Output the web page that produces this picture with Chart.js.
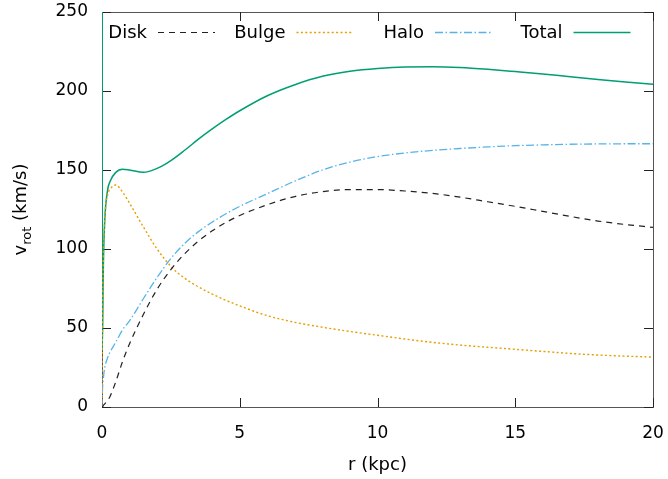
<!DOCTYPE html>
<html>
<head>
<meta charset="utf-8">
<script src="https://cdn.jsdelivr.net/npm/chart.js@4"></script>
<style>
    html, body { margin: 0; padding: 0; background: #fff; }
    canvas { display: block; }
</style>
</head>
<body>
<canvas id="rotChart" width="668" height="479"></canvas>
<script>
// --- DATA ---
const radius = [0, 0.01, 0.05, 0.1, 0.2, 0.3, 0.5, 0.75, 1, 1.5, 2, 2.5, 3, 3.5, 4, 4.5, 5, 6, 7, 8, 9, 10, 11, 12, 13, 14, 15, 16, 17, 18, 19, 20];
const disk  = [0, 0, 1, 2, 4, 7, 16, 29, 40, 58.5, 74.5, 87, 97, 105, 111.5, 116.8, 121.2, 128, 133.2, 136.3, 137.6, 137.6, 136.7, 135.2, 132.8, 129.9, 127, 123.8, 120.6, 117.7, 115.5, 113.7];
const bulge = [0, 40, 95, 120, 134, 138, 140.5, 136, 129, 114, 100, 89, 81.5, 76, 71.5, 67.5, 64, 57.8, 53.6, 50.5, 47.8, 45.4, 43, 40.9, 39.2, 37.8, 36.5, 35.2, 33.9, 32.9, 32.2, 31.6];
const halo  = [0, 8, 18, 25, 31, 35, 41, 49, 54.5, 68.5, 82, 94, 103.5, 111, 117, 122.3, 127, 135, 143, 150, 155, 158.5, 160.8, 162.4, 163.6, 164.6, 165.4, 165.9, 166.3, 166.5, 166.6, 166.6];
const total = [1000, 36, 90, 118, 137, 143, 148.5, 150.5, 150, 148.5, 151, 156, 162.5, 169.5, 176, 182, 187.5, 197, 204, 209.3, 212.5, 214.3, 215.2, 215.3, 214.8, 213.7, 212.3, 210.8, 209, 207.3, 205.7, 204.2];

const xTicks = [0, 5, 10, 15, 20];
const yTicks = [0, 50, 100, 150, 200, 250];

const FONT = 'DejaVu Sans, Verdana, sans-serif';

function toPoints(values) {
    return radius.map((r, i) => ({ x: r, y: values[i] }));
}

function series(label, values, color, dash, width) {
    return {
        label: label,
        data: toPoints(values),
        borderColor: color,
        borderWidth: width,
        borderDash: dash,
        pointRadius: 0,
        fill: false,
        cubicInterpolationMode: 'monotone'
    };
}

// --- PLUGINS: gnuplot-like frame, inward ticks, key and y label ---
const framePlugin = {
    id: 'frame',
    beforeDatasetsDraw(chart) {
        const { ctx, chartArea: a, scales } = chart;
        const len = 9;
        ctx.save();
        ctx.strokeStyle = '#555';
        ctx.lineWidth = 1;
        ctx.strokeRect(a.left + 0.5, a.top + 0.5, a.right - a.left, a.bottom - a.top);
        ctx.strokeStyle = '#222';
        ctx.beginPath();
        xTicks.forEach(v => {
            const px = Math.round(scales.x.getPixelForValue(v)) + 0.5;
            ctx.moveTo(px, a.bottom); ctx.lineTo(px, a.bottom - len);
            ctx.moveTo(px, a.top); ctx.lineTo(px, a.top + len);
        });
        yTicks.forEach(v => {
            const py = Math.round(scales.y.getPixelForValue(v)) + 0.5;
            ctx.moveTo(a.left, py); ctx.lineTo(a.left + len, py);
            ctx.moveTo(a.right, py); ctx.lineTo(a.right - len, py);
        });
        ctx.stroke();
        ctx.restore();
    }
};

const keyPlugin = {
    id: 'gnuKey',
    afterDraw(chart) {
        const { ctx, chartArea: a } = chart;
        const y = a.top + 20;
        ctx.save();
        ctx.font = '18px ' + FONT;
        ctx.textBaseline = 'middle';
        ctx.textAlign = 'right';
        chart.data.datasets.forEach((ds, i) => {
            const x0 = a.left + 56 + i * 138.5;
            ctx.fillStyle = '#000';
            ctx.fillText(ds.label, x0 - 11, y + 1);
            ctx.beginPath();
            ctx.strokeStyle = ds.borderColor;
            ctx.lineWidth = ds.borderWidth;
            ctx.setLineDash(ds.borderDash || []);
            ctx.moveTo(x0, y + 0.5);
            ctx.lineTo(x0 + 57, y + 0.5);
            ctx.stroke();
        });
        ctx.restore();

        // y axis title with subscript
        const cy = (a.top + a.bottom) / 2;
        ctx.save();
        ctx.translate(25.5, cy);
        ctx.rotate(-Math.PI / 2);
        ctx.fillStyle = '#000';
        ctx.textBaseline = 'alphabetic';
        ctx.textAlign = 'left';
        ctx.font = '18px ' + FONT;
        const wV = ctx.measureText('v').width;
        const wRest = ctx.measureText(' (km/s)').width;
        ctx.font = '13px ' + FONT;
        const wSub = ctx.measureText('rot').width;
        let x = -(wV + wSub + wRest) / 2;
        ctx.font = '18px ' + FONT;
        ctx.fillText('v', x, 0);
        x += wV;
        ctx.font = '13px ' + FONT;
        ctx.fillText('rot', x, 5);
        x += wSub;
        ctx.font = '18px ' + FONT;
        ctx.fillText(' (km/s)', x, 0);
        ctx.restore();
    }
};

new Chart(document.getElementById('rotChart'), {
    type: 'line',
    data: {
        datasets: [
            series('Disk', disk, '#222', [6, 5], 1.2),
            series('Bulge', bulge, '#e69f00', [2, 2.4], 1.4),
            series('Halo', halo, '#56b4e9', [8, 2.5, 1.5, 2.5], 1.3),
            series('Total', total, '#009e73', [], 1.5)
        ]
    },
    options: {
        responsive: false,
        animation: false,
        devicePixelRatio: 1,
        layout: { padding: { top: 12, right: 15, left: 0, bottom: 0 } },
        plugins: {
            legend: { display: false },
            tooltip: { enabled: false }
        },
        scales: {
            x: {
                type: 'linear',
                min: 0,
                max: 20,
                grid: { display: false, drawTicks: false },
                border: { display: false },
                ticks: {
                    stepSize: 5,
                    padding: 16,
                    color: '#000',
                    font: { family: FONT, size: 17 }
                },
                title: {
                    display: true,
                    text: 'r (kpc)',
                    color: '#000',
                    font: { family: FONT, size: 18 },
                    padding: { top: 0, bottom: 3 }
                },
                afterFit(s) {
                    s.height = 72;
                    s.paddingLeft = 0;
                    s.paddingRight = 0;
                }
            },
            y: {
                min: 0,
                max: 250,
                grid: { display: false, drawTicks: false },
                border: { display: false },
                ticks: {
                    stepSize: 50,
                    padding: 14,
                    color: '#000',
                    font: { family: FONT, size: 17 }
                },
                afterFit(s) {
                    s.width = 102;
                    s.paddingTop = 0;
                    s.paddingBottom = 0;
                }
            }
        }
    },
    plugins: [framePlugin, keyPlugin]
});
</script>
</body>
</html>
